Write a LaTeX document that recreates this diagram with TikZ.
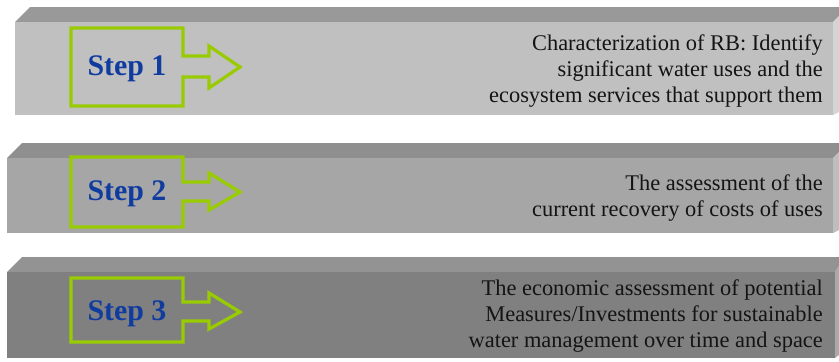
\documentclass[tikz,border=0pt]{standalone}
\usepackage{fontspec}
\setmainfont{Liberation Serif}
\definecolor{stepgreen}{RGB}{153,204,0}
\definecolor{stepblue}{RGB}{16,60,160}
\definecolor{fA}{RGB}{192,192,192}
\definecolor{tA}{RGB}{153,153,153}
\definecolor{sA}{RGB}{212,212,212}
\definecolor{fB}{RGB}{166,166,166}
\definecolor{tB}{RGB}{143,143,143}
\definecolor{sB}{RGB}{190,190,190}
\definecolor{fC}{RGB}{128,128,128}
\definecolor{tC}{RGB}{147,147,147}
\definecolor{sC}{RGB}{170,170,170}
\definecolor{txt}{RGB}{20,20,20}
\tikzset{
  arrowbox/.style={draw=stepgreen, line width=3.2pt, line join=miter},
  steplabel/.style={font=\fontsize{30}{33}\selectfont\bfseries, text=stepblue, inner sep=0pt},
  desc/.style={font=\fontsize{22.5}{25.8}\selectfont, text=txt, align=right, anchor=east, inner sep=0pt},
}
\begin{document}
\begin{tikzpicture}[x=1bp,y=-1bp]
\useasboundingbox (0,0) rectangle (839,361);
% band 1
\fill[tA] (15,22) -- (30,7) -- (839,7) -- (839,16) -- (833,22) -- cycle;
\fill[sA] (833,22) -- (839,16) -- (839,112) -- (833,115) -- cycle;
\fill[fA] (15,22) rectangle (833,115);
% band 2
\fill[tB] (7,158) -- (22,143) -- (839,143) -- (839,152) -- (833,158) -- cycle;
\fill[sB] (833,158) -- (839,152) -- (839,230) -- (833,233) -- cycle;
\fill[fB] (7,158) rectangle (833,233);
% band 3
\fill[tC] (7,272) -- (22,257) -- (839,257) -- (839,266) -- (835,272) -- cycle;
\fill[sC] (835,272) -- (839,266) -- (839,355) -- (835,358) -- cycle;
\fill[fC] (7,272) rectangle (835,358);
% arrows
\draw[arrowbox] (71,28) -- (183,28) -- (183,56) -- (209,56) -- (209,46) -- (240,67) -- (209,88) -- (209,77) -- (183,77) -- (183,106) -- (71,106) -- cycle;
\draw[arrowbox] (71,157) -- (183,157) -- (183,182) -- (209,182) -- (209,173) -- (240,192) -- (209,210) -- (209,201) -- (183,201) -- (183,227) -- (71,227) -- cycle;
\draw[arrowbox] (71,278) -- (183,278) -- (183,302) -- (209,302) -- (209,293) -- (240,312) -- (209,329) -- (209,321) -- (183,321) -- (183,342) -- (71,342) -- cycle;
% labels
\node[steplabel] (s1) at (127,69) {Step 1};
\node[steplabel] (s2) at (127,194) {Step 2};
\node[steplabel] (s3) at (127,314) {Step 3};
\node[desc] (d1) at (823,71) {Characterization of RB: Identify\\significant water uses and the\\ecosystem services that support them};
\node[desc] (d2) at (823,198) {The assessment of the\\current recovery of costs of uses};
\node[desc] (d3) at (823,316) {The economic assessment of potential\\Measures/Investments for sustainable\\water management over time and space};
\end{tikzpicture}
\end{document}
